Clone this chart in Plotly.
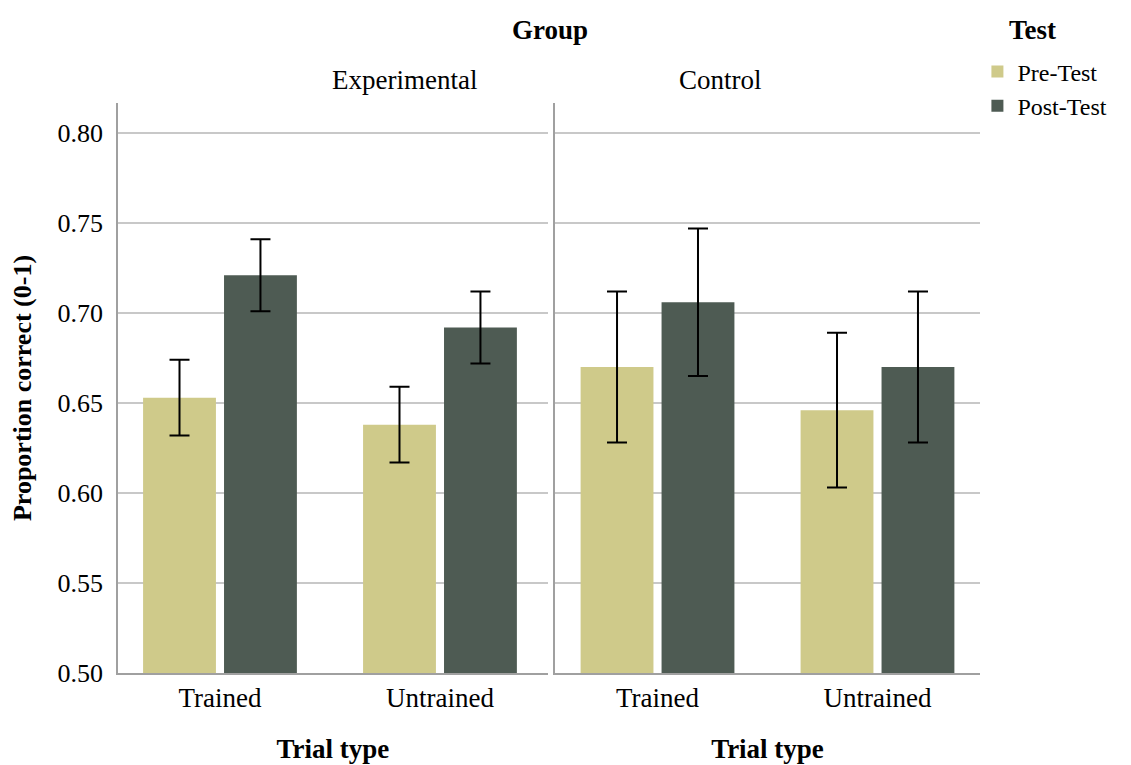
import plotly.graph_objects as go
from plotly.subplots import make_subplots

groups = ["Experimental", "Control"]
trial_types = ["Trained", "Untrained"]
tests = ["Pre-Test", "Post-Test"]

exp_pre = [0.653, 0.638]
exp_post = [0.721, 0.692]
ctl_pre = [0.670, 0.646]
ctl_post = [0.706, 0.670]

exp_pre_err = [0.021, 0.021]
exp_post_err = [0.020, 0.020]
ctl_pre_err = [0.042, 0.043]
ctl_post_err = [0.041, 0.042]

colors = {"Pre-Test": "#CFCA8A", "Post-Test": "#4E5B53"}
FONT = "Liberation Serif"

data = {
    "Experimental": {"Pre-Test": (exp_pre, exp_pre_err), "Post-Test": (exp_post, exp_post_err)},
    "Control": {"Pre-Test": (ctl_pre, ctl_pre_err), "Post-Test": (ctl_post, ctl_post_err)},
}

fig = make_subplots(rows=1, cols=2, shared_yaxes=True, horizontal_spacing=0.008)

for ci, g in enumerate(groups):
    for t in tests:
        vals, errs = data[g][t]
        fig.add_trace(go.Bar(
            x=trial_types, y=vals, name=t,
            marker=dict(color=colors[t], line=dict(width=0)),
            error_y=dict(type="data", array=errs, color="black", thickness=2, width=10),
            showlegend=(ci == 0), legendgroup=t,
        ), row=1, col=ci + 1)

fig.update_layout(
    width=1123, height=757,
    barmode="group", bargap=0.264, bargroupgap=0.1,
    paper_bgcolor="white", plot_bgcolor="white",
    margin=dict(l=110, r=151, t=95, b=92, autoexpand=False),
    font=dict(family=FONT, size=27, color="black"),
    legend=dict(
        x=0.997, y=1.094, xanchor="left", yanchor="top",
        font=dict(size=24, family=FONT), tracegroupgap=0, itemwidth=30,
        bgcolor="rgba(0,0,0,0)",
    ),
    xaxis=dict(domain=[0, 0.4988], range=[-0.4636, 1.4909]),
    xaxis2=dict(domain=[0.50696, 1], range=[-0.466, 1.466]),
)

for ci in (1, 2):
    fig.update_xaxes(
        row=1, col=ci, showline=True, linecolor="#A0A0A0", linewidth=1.5,
        ticks="", tickfont=dict(size=27, family=FONT), automargin=False,
        title=dict(text="<b>Trial type</b>", font=dict(size=27, family=FONT), standoff=27),
        showgrid=False,
    )
    fig.update_yaxes(
        row=1, col=ci, range=[0.5, 0.8167], dtick=0.05, tick0=0.5, tickformat=".2f",
        showline=True, linecolor="#A0A0A0", linewidth=1.5,
        showgrid=True, gridcolor="#C8C8C8", gridwidth=1.5,
        ticks="", zeroline=False, automargin=False,
        tickfont=dict(size=26, family=FONT),
    )
fig.update_yaxes(row=1, col=1, ticklabelstandoff=8,
                 title=dict(text="<b>Proportion correct (0-1)</b>", font=dict(size=26, family=FONT), standoff=20))
fig.update_yaxes(row=1, col=2, showticklabels=False)

xd1 = fig.layout.xaxis.domain
xd2 = fig.layout.xaxis2.domain
fig.add_annotation(x=(xd1[0] + xd1[1]) / 2 - 0.004, y=1.04, xref="paper", yref="paper",
                   text="Experimental", showarrow=False, yanchor="middle",
                   font=dict(size=27, family=FONT))
fig.add_annotation(x=(xd2[0] + xd2[1]) / 2 - 0.004, y=1.04, xref="paper", yref="paper",
                   text="Control", showarrow=False, yanchor="middle",
                   font=dict(size=27, family=FONT))
fig.add_annotation(x=0.501, y=1.128, xref="paper", yref="paper",
                   text="<b>Group</b>", showarrow=False, yanchor="middle",
                   font=dict(size=27, family=FONT))
fig.add_annotation(x=1.0905, y=1.128, xref="paper", yref="paper",
                   text="<b>Test</b>", showarrow=False, yanchor="middle",
                   font=dict(size=27, family=FONT))

fig.write_html("out.html")
